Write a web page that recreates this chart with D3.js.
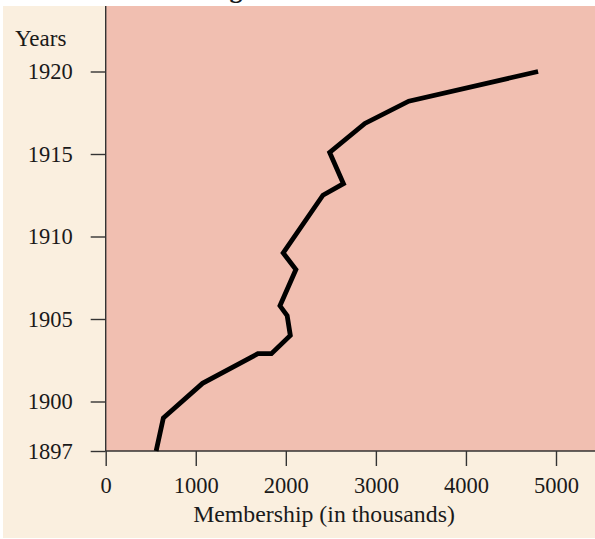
<!DOCTYPE html>
<html>
<head>
<meta charset="utf-8">
<script src="https://cdn.jsdelivr.net/npm/d3@7"></script>
<style>
  html, body { margin: 0; padding: 0; background: #ffffff; }
  svg { display: block; }
  text { font-family: "Liberation Serif", "Times New Roman", serif; fill: #1a1a1a; }
</style>
</head>
<body>
<svg id="chart" width="595" height="539"></svg>
<script>
// Union membership by year (thousands of members)
const years = [1897, 1899, 1901.1, 1902.9, 1902.9, 1904, 1905.2, 1905.8, 1908, 1909, 1912.5, 1913.2, 1915.1, 1916.85, 1918.2, 1920];
const membership = [560, 640, 1075, 1690, 1840, 2050, 2015, 1935, 2112, 1971, 2412, 2640, 2487, 2878, 3365, 4801];

const yearTicks = [1897, 1900, 1905, 1910, 1915, 1920];
const memberTicks = [0, 1000, 2000, 3000, 4000, 5000];

const titleText = "Trade Union Strength";
const yTitle = "Years";
const xTitle = "Membership (in thousands)";

const W = 595, H = 539;
const svg = d3.select("#chart");

const x = d3.scaleLinear().domain([0, 5000]).range([105.7, 556]);
const y = d3.scaleLinear().domain([1897, 1920]).range([451, 71.5]);

const plotTop = 6;

// page panel
svg.append("rect").attr("x", 3).attr("y", plotTop).attr("width", W - 3).attr("height", 532)
  .attr("fill", "#faefdf");

// plot area
svg.append("rect")
  .attr("x", x(0)).attr("y", plotTop)
  .attr("width", W - x(0)).attr("height", y(1897) - plotTop)
  .attr("fill", "#f1bfb1");

// heading (sits mostly above the visible area)
const title = svg.append("text")
  .attr("font-weight", "bold")
  .attr("font-size", 26)
  .attr("y", -2)
  .text(titleText);
try {
  const gi = titleText.indexOf("g");
  const ext = title.node().getExtentOfChar(gi);
  title.attr("x", 236 - (ext.x + ext.width / 2));
} catch (e) {
  title.attr("x", 20);
}

// y axis
const yAxis = d3.axisLeft(y).tickValues(yearTicks).tickFormat(d3.format("d"))
  .tickSize(15).tickSizeOuter(0).tickPadding(18);
const gy = svg.append("g").attr("transform", `translate(${x(0)},0)`).call(yAxis);
gy.select(".domain").remove();
gy.selectAll(".tick line").attr("stroke", "#333").attr("stroke-width", 1.4);
gy.selectAll(".tick text").attr("font-size", 22.5).attr("dy", "0.33em")
  .style("font-family", "'Liberation Serif', serif").attr("fill", "#1a1a1a");

// x axis
const xAxis = d3.axisBottom(x).tickValues(memberTicks).tickFormat(d3.format("d"))
  .tickSize(15).tickSizeOuter(0);
const gx = svg.append("g").attr("transform", `translate(0,${y(1897)})`).call(xAxis);
gx.select(".domain").remove();
gx.selectAll(".tick line").attr("stroke", "#333").attr("stroke-width", 1.4);
gx.selectAll(".tick text").attr("font-size", 22.5).attr("y", 42).attr("dy", 0)
  .style("font-family", "'Liberation Serif', serif").attr("fill", "#1a1a1a");

// axis lines
svg.append("line").attr("x1", x(0)).attr("x2", x(0)).attr("y1", plotTop).attr("y2", y(1897))
  .attr("stroke", "#333").attr("stroke-width", 1.4);
svg.append("line").attr("x1", x(0)).attr("x2", W).attr("y1", y(1897)).attr("y2", y(1897))
  .attr("stroke", "#333").attr("stroke-width", 1.4);

// axis titles
svg.append("text").attr("x", 15).attr("y", 46).attr("font-size", 23).text(yTitle);
svg.append("text").attr("x", 324).attr("y", 522).attr("font-size", 23.8)
  .attr("text-anchor", "middle").text(xTitle);

// membership line
const pts = years.map((yr, i) => [yr, membership[i]]);
const line = d3.line().x(d => x(d[1])).y(d => y(d[0]));
svg.append("path")
  .datum(pts)
  .attr("d", line)
  .attr("fill", "none")
  .attr("stroke", "#000")
  .attr("stroke-width", 4.8)
  .attr("stroke-linejoin", "miter")
  .attr("stroke-linecap", "butt");
</script>
</body>
</html>
